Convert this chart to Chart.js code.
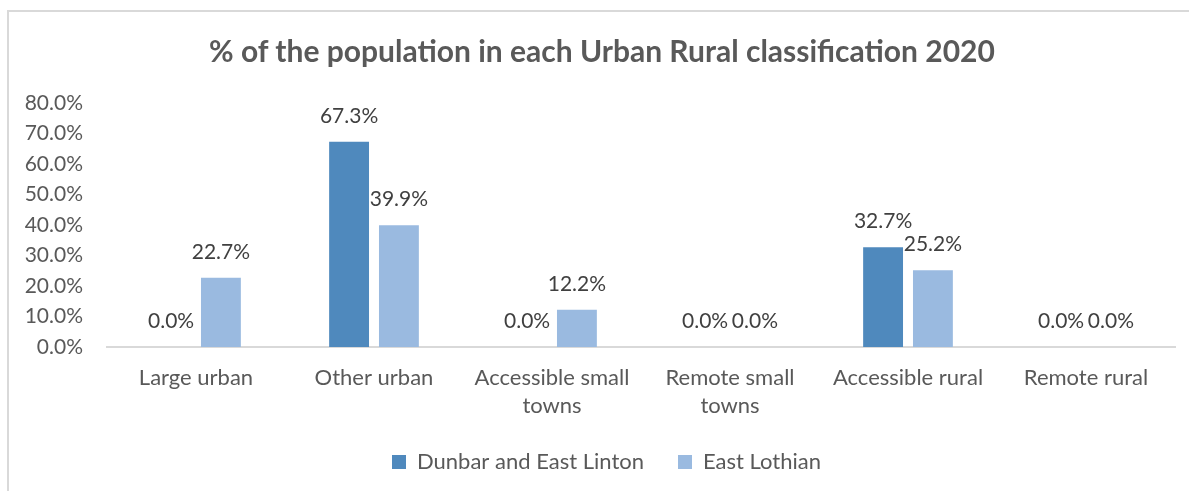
<!DOCTYPE html>
<html>
<head>
<meta charset="utf-8">
<script src="https://cdn.jsdelivr.net/npm/chart.js@4/dist/chart.umd.min.js"></script>
<style>
  html, body { margin: 0; padding: 0; background: #fff; overflow: hidden; }
  #frame {
    position: absolute; left: 7px; top: 10px; width: 1200px; height: 500px;
    border-left: 2px solid #d9d9d9; border-top: 2px solid #d9d9d9;
  }
  #wrap { position: absolute; left: 8px; top: 11px; width: 1189px; height: 480px; }
</style>
</head>
<body>
<div id="frame"></div>
<div id="wrap"><canvas id="grafico"></canvas></div>
<script>
// categorias e valores
const categorias = [
    'Large urban',
    'Other urban',
    ['Accessible small', 'towns'],
    ['Remote small', 'towns'],
    'Accessible rural',
    'Remote rural'
];
const dunbar = [0.0, 67.3, 0.0, 0.0, 32.7, 0.0];
const eastLothian = [22.7, 39.9, 12.2, 0.0, 25.2, 0.0];
const ticksY = [0, 10, 20, 30, 40, 50, 60, 70, 80];

const fonte = 'Lato, "Open Sans", sans-serif';
const corTexto = '#595959';

// escreve o valor em cima de cada barra
const rotulosBarras = {
    id: 'rotulosBarras',
    afterDatasetsDraw(chart) {
        const ctx = chart.ctx;
        ctx.save();
        ctx.font = '21px ' + fonte;
        ctx.fillStyle = '#404040';
        ctx.textAlign = 'center';
        ctx.textBaseline = 'alphabetic';
        chart.data.datasets.forEach((ds, i) => {
            const meta = chart.getDatasetMeta(i);
            meta.data.forEach((barra, j) => {
                ctx.fillText(ds.data[j].toFixed(1) + '%', barra.x, barra.y - 19);
            });
        });
        ctx.restore();
    }
};

// empurra a legenda um pouco para a direita
const moveLegenda = {
    id: 'moveLegenda',
    afterLayout(chart) {
        if (chart.legend) {
            chart.legend.left += 15;
            chart.legend.right += 15;
        }
    }
};

const dados = {
    labels: categorias,
    datasets: [{
        label: 'Dunbar and East Linton',
        data: dunbar,
        backgroundColor: '#4f89bd',
        categoryPercentage: 0.56,
        barPercentage: 0.8
    }, {
        label: 'East Lothian',
        data: eastLothian,
        backgroundColor: '#9abae0',
        categoryPercentage: 0.56,
        barPercentage: 0.8
    }]
};

const config = {
    type: 'bar',
    data: dados,
    options: {
        responsive: true,
        maintainAspectRatio: false,
        animation: false,
        layout: { padding: { left: 0, right: 22, top: 92, bottom: 8 } },
        plugins: {
            title: { display: false },
            tooltip: { enabled: false },
            legend: {
                position: 'bottom',
                labels: {
                    font: { family: fonte, size: 22 },
                    color: corTexto,
                    boxWidth: 14,
                    boxHeight: 14,
                    padding: 34
                }
            }
        },
        scales: {
            x: {
                grid: { display: true, drawOnChartArea: false, drawTicks: false },
                border: { display: true, color: '#d9d9d9', width: 2 },
                ticks: {
                    font: { family: fonte, size: 22, lineHeight: 1.27 },
                    color: corTexto,
                    padding: 17,
                    maxRotation: 0,
                    autoSkip: false
                },
                afterFit(scale) { scale.height = 70; }
            },
            y: {
                min: 0,
                max: 80,
                afterBuildTicks(scale) { scale.ticks = ticksY.map(v => ({ value: v })); },
                grid: { display: false, drawTicks: false },
                border: { display: false },
                ticks: {
                    font: { family: fonte, size: 21 },
                    color: corTexto,
                    padding: 24,
                    callback: v => v.toFixed(1) + '%'
                },
                afterFit(scale) { scale.width = 99; }
            }
        }
    },
    plugins: [rotulosBarras, moveLegenda]
};

const titulo = document.createElement('div');
titulo.textContent = '% of the population in each Urban Rural classification 2020';
titulo.style.cssText = 'position:absolute;left:0;width:1204px;top:32px;text-align:center;font:bold 30px ' + fonte + ';color:' + corTexto + ';';
document.body.appendChild(titulo);

const ctx = document.getElementById('grafico').getContext('2d');
const grafico = new Chart(ctx, config);
</script>
</body>
</html>
